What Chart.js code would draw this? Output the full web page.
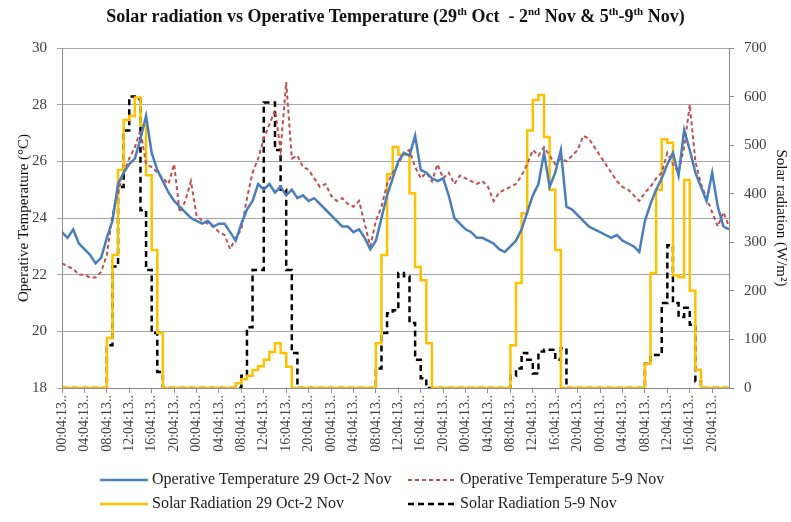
<!DOCTYPE html>
<html>
<head>
<meta charset="utf-8">
<script src="https://cdn.jsdelivr.net/npm/chart.js@4.4.1/dist/chart.umd.min.js"></script>
<style>
	body { margin: 0; background: #fff; }
	#wrap { position: relative; width: 791px; height: 522px; }
	#title {
		position: absolute; top: 5px; left: 0; width: 791px;
		text-align: center; font: bold 18px "Liberation Serif", serif; color: #111;
	}
	#title sup { font-size: 11px; }
	.lg { position: absolute; font: 16px "Liberation Serif", serif; color: #222; white-space: nowrap; }
	.lg svg { vertical-align: middle; margin-right: 4px; }
</style>
</head>
<body>
<div id="wrap">
	<canvas id="chart" width="791" height="522"></canvas>
	<div id="title">Solar radiation vs Operative Temperature (29<sup>th</sup> Oct &nbsp;- 2<sup>nd</sup> Nov &amp; 5<sup>th</sup>-9<sup>th</sup> Nov)</div>
	<div id="legend"></div>
</div>
<script>

/*
 * Hourly readings, hour 0 = 00:04:13 of the first day (5 days).
 */
const timeLabels = [ "00:04:13..", "04:04:13..", "08:04:13..", "12:04:13..", "16:04:13..", "20:04:13.." ];

// Operative Temperature 29 Oct-2 Nov (°C)
const tempOct = [
	23.5, 23.3, 23.6, 23.1, 22.9, 22.7, 22.4, 22.6, 23.3, 23.9, 25.2, 25.6, 25.9, 26.1, 26.8, 27.6, 26.3, 25.7, 25.3, 24.9, 24.6, 24.4, 24.2, 24.0,
	23.9, 23.8, 23.9, 23.7, 23.8, 23.8, 23.5, 23.2, 23.8, 24.3, 24.6, 25.2, 25.0, 25.2, 24.9, 25.1, 24.8, 25.0, 24.7, 24.8, 24.6, 24.7, 24.5, 24.3,
	24.1, 23.9, 23.7, 23.7, 23.5, 23.6, 23.3, 22.9, 23.2, 24.0, 24.8, 25.4, 26.0, 26.3, 26.2, 26.9, 25.7, 25.6, 25.4, 25.3, 25.4, 24.8, 24.0, 23.8,
	23.6, 23.5, 23.3, 23.3, 23.2, 23.1, 22.9, 22.8, 23.0, 23.2, 23.6, 24.2, 24.8, 25.2, 26.3, 25.1, 25.6, 26.4, 24.4, 24.3, 24.1, 23.9, 23.7, 23.6,
	23.5, 23.4, 23.3, 23.4, 23.2, 23.1, 23.0, 22.8, 23.9, 24.5, 25.0, 25.4, 25.9, 26.3, 25.5, 27.1, 26.4, 25.6, 25.1, 24.6, 25.6, 24.4, 23.7, 23.6
];

// Operative Temperature 5-9 Nov (°C)
const tempNov = [
	22.4, 22.3, 22.2, 22.0, 22.0, 21.9, 21.9, 22.1, 22.7, 24.1, 24.9, 25.6, 26.1, 26.5, 27.1, 25.9, 25.8, 25.6, 25.4, 25.2, 25.9, 24.2, 24.6, 25.3,
	24.1, 23.9, 23.8, 23.7, 23.5, 23.4, 22.9, 23.3, 23.6, 24.7, 25.6, 26.1, 26.8, 27.3, 27.8, 26.4, 28.8, 26.1, 26.2, 25.8, 25.7, 25.4, 25.1, 25.2,
	24.8, 24.6, 24.7, 24.5, 24.4, 24.6, 23.8, 23.0, 23.9, 24.4, 25.2, 25.6, 25.9, 26.3, 26.4, 25.8, 25.4, 25.6, 25.3, 25.9, 25.4, 25.6, 25.2, 25.5,
	25.4, 25.3, 25.2, 25.3, 25.1, 24.6, 24.9, 25.0, 25.1, 25.2, 25.5, 25.9, 26.4, 26.2, 26.5, 26.2, 25.9, 26.1, 26.0, 26.2, 26.4, 26.9, 26.8, 26.5,
	26.2, 25.9, 25.6, 25.3, 25.1, 25.0, 24.8, 24.6, 24.9, 25.1, 25.4, 25.6, 26.3, 25.9, 25.6, 26.5, 28.0, 26.0, 25.2, 24.7, 24.2, 23.7, 24.2, 23.7
];

// Solar Radiation 29 Oct-2 Nov (W/m²)
const solarOct = [
	0, 0, 0, 0, 0, 0, 0, 0, 103, 274, 449, 552, 560, 598, 541, 438, 284, 113, 0, 0, 0, 0, 0, 0,
	0, 0, 0, 0, 0, 0, 0, 10, 18, 25, 37, 45, 58, 74, 92, 72, 44, 0, 0, 0, 0, 0, 0, 0,
	0, 0, 0, 0, 0, 0, 0, 0, 92, 274, 440, 496, 480, 480, 401, 249, 222, 92, 0, 0, 0, 0, 0, 0,
	0, 0, 0, 0, 0, 0, 0, 0, 88, 216, 360, 530, 593, 603, 517, 408, 284, 0, 0, 0, 0, 0, 0, 0,
	0, 0, 0, 0, 0, 0, 0, 0, 50, 237, 408, 512, 505, 232, 228, 428, 200, 37, 0, 0, 0, 0, 0, 0
];

// Solar Radiation 5-9 Nov (W/m²)
const solarNov = [
	0, 0, 0, 0, 0, 0, 0, 0, 88, 250, 414, 530, 600, 595, 366, 243, 113, 33, 0, 0, 0, 0, 0, 0,
	0, 0, 0, 0, 0, 0, 0, 0, 25, 125, 243, 243, 588, 588, 490, 408, 243, 72, 0, 0, 0, 0, 0, 0,
	0, 0, 0, 0, 0, 0, 0, 0, 40, 113, 154, 160, 237, 230, 134, 58, 20, 0, 0, 0, 0, 0, 0, 0,
	0, 0, 0, 0, 0, 0, 0, 0, 25, 40, 72, 58, 30, 75, 79, 79, 58, 82, 0, 0, 0, 0, 0, 0,
	0, 0, 0, 0, 0, 0, 0, 0, 50, 68, 68, 175, 294, 175, 146, 165, 130, 14, 0, 0, 0, 0, 0, 0
];

const serif = "'Liberation Serif', serif";

/*
 * Turn an hourly list into {x, y} points.
 */
const toPoints = values => values.map( ( v, h ) => ({ x: h, y: v }) );

const series = [
	{ label: "Operative Temperature 29 Oct-2 Nov", data: toPoints( tempOct ), yAxisID: "y",
		borderColor: "#4A7EBB", borderWidth: 2.5, dash: [] },
	{ label: "Operative Temperature 5-9 Nov", data: toPoints( tempNov ), yAxisID: "y",
		borderColor: "#C0504D", borderWidth: 2, dash: [ 4, 3 ] },
	{ label: "Solar Radiation 29 Oct-2 Nov", data: toPoints( solarOct ), yAxisID: "y1",
		borderColor: "#FFC000", borderWidth: 2.5, dash: [], stepped: "before" },
	{ label: "Solar Radiation 5-9 Nov", data: toPoints( solarNov ), yAxisID: "y1",
		borderColor: "#000000", borderWidth: 2.5, dash: [ 6, 4 ], stepped: "before" }
];

new Chart( document.getElementById( "chart" ), {
	type: "line",
	data: {
		datasets: series.map( s => ({
			label: s.label,
			data: s.data,
			yAxisID: s.yAxisID,
			borderColor: s.borderColor,
			backgroundColor: s.borderColor,
			borderWidth: s.borderWidth,
			borderDash: s.dash,
			stepped: s.stepped || false,
			pointRadius: 0,
			tension: 0,
			fill: false
		}))
	},
	options: {
		responsive: false,
		devicePixelRatio: 1,
		animation: false,
		layout: { padding: { left: 0, right: 0, top: 48, bottom: 0 } },
		plugins: {
			legend: { display: false },
			title: { display: false },
			tooltip: { enabled: false }
		},
		scales: {
			x: {
				type: "linear",
				min: 0,
				max: 119,
				afterFit: scale => { scale.height = 134; },
				grid: { drawOnChartArea: false, drawTicks: true, tickLength: 5, color: "#8c8c8c" },
				border: { display: true, color: "#8c8c8c" },
				ticks: {
					stepSize: 4,
					includeBounds: false,
					autoSkip: false,
					maxRotation: 90,
					minRotation: 90,
					padding: 2,
					color: "#404040",
					font: { family: serif, size: 14 },
					callback: v => v % 4 === 0 ? timeLabels[ ( v / 4 ) % 6 ] : ""
				}
			},
			y: {
				position: "left",
				min: 18,
				max: 30,
				afterFit: scale => { scale.width = 62; },
				grid: { color: "#a6a6a6", tickLength: 5 },
				border: { display: true, color: "#8c8c8c" },
				ticks: { stepSize: 2, padding: 10, color: "#404040", font: { family: serif, size: 15 } },
				title: {
					display: true,
					text: "Operative Temperature (°C)",
					color: "#111",
					font: { family: serif, size: 15 },
					padding: { top: 15, bottom: 0 }
				}
			},
			y1: {
				position: "right",
				min: 0,
				max: 700,
				afterFit: scale => { scale.width = 62; },
				grid: { drawOnChartArea: false, color: "#8c8c8c", tickLength: 5 },
				border: { display: true, color: "#8c8c8c" },
				ticks: { stepSize: 100, padding: 10, color: "#404040", font: { family: serif, size: 15 } },
				title: {
					display: true,
					text: "Solar radiation (W/m²)",
					color: "#111",
					font: { family: serif, size: 15 },
					padding: { top: 1, bottom: 0 }
				}
			}
		}
	}
});

/*
 * Legend in two aligned columns, like the original.
 */
const legendSpots = [ [ 100, 480 ], [ 408, 480 ], [ 100, 504 ], [ 408, 504 ] ];
const legend = document.getElementById( "legend" );
series.forEach( ( s, i ) =>
{
	const [ left, top ] = legendSpots[i];
	const item = document.createElement( "div" );
	item.className = "lg";
	item.style.left = left + "px";
	item.style.top = ( top - 10 ) + "px";
	item.innerHTML =
		'<svg width="48" height="6"><line x1="0" y1="3" x2="48" y2="3" stroke="' + s.borderColor +
		'" stroke-width="' + s.borderWidth + '" stroke-dasharray="' + ( s.dash.join( " " ) || "none" ) + '"/></svg>' +
		s.label;
	legend.appendChild( item );
});
</script>
</body>
</html>
